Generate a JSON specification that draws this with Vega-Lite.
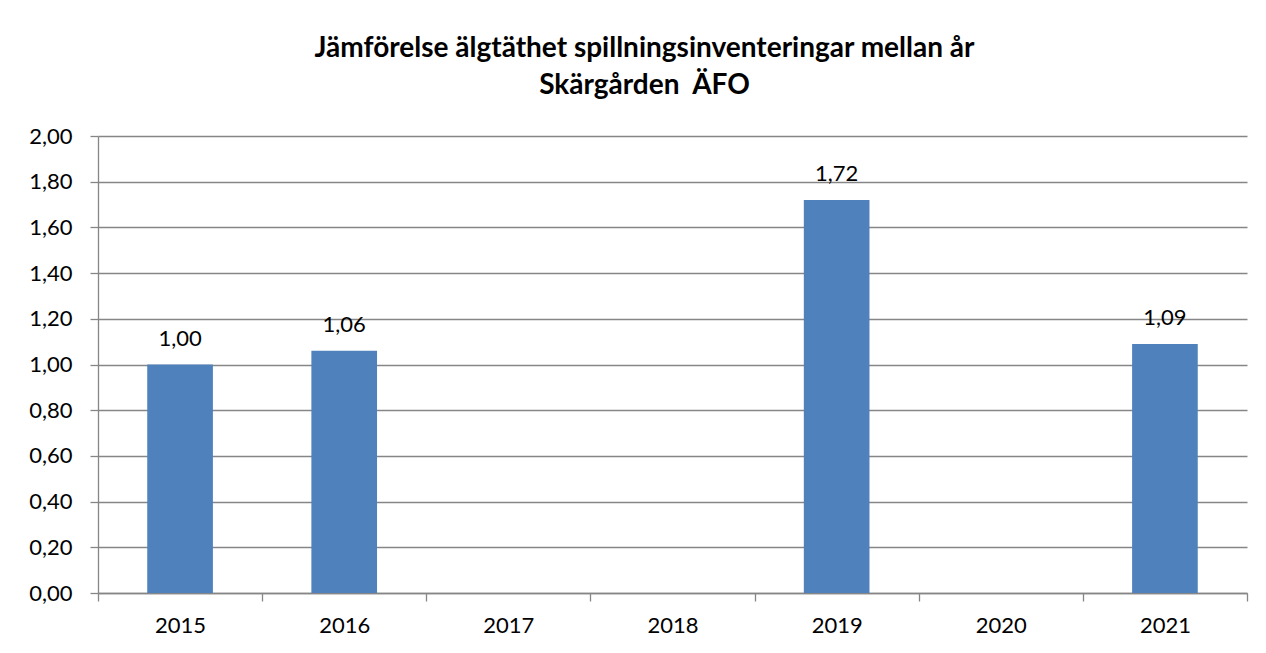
{
  "$schema": "https://vega.github.io/schema/vega-lite/v6.json",
  "autosize": "none",
  "width": 1149,
  "height": 457,
  "padding": {"left": 98, "top": 136, "right": 19, "bottom": 60},
  "background": "white",
  "title": {
    "text": ["Jämförelse älgtäthet spillningsinventeringar mellan år", "Skärgården \u00a0ÄFO"],
    "anchor": "middle",
    "frame": "group",
    "dx": -28,
    "offset": 25,
    "font": "Lato",
    "fontSize": 28,
    "fontWeight": "bold",
    "color": "black",
    "lineHeight": 37
  },
  "data": {
    "values": [
      {"year": "2015", "value": 1.00},
      {"year": "2016", "value": 1.06},
      {"year": "2019", "value": 1.72},
      {"year": "2021", "value": 1.09}
    ]
  },
  "encoding": {
    "x": {
      "field": "year",
      "type": "nominal",
      "sort": null,
      "scale": {"domain": ["2015", "2016", "2017", "2018", "2019", "2020", "2021"], "paddingInner": 0, "paddingOuter": 0},
      "axis": {
        "title": null,
        "labelAngle": 0,
        "tickBand": "extent",
        "tickSize": 8,
        "tickColor": "#868686",
        "tickWidth": 1.3,
        "domainColor": "#868686",
        "domainWidth": 1.3,
        "labelFont": "Lato",
        "labelFontSize": 22,
        "labelColor": "black",
        "labelPadding": 14,
        "grid": false
      }
    },
    "y": {
      "field": "value",
      "type": "quantitative",
      "scale": {"domain": [0, 2], "nice": false},
      "axis": {
        "title": null,
        "values": [0, 0.2, 0.4, 0.6, 0.8, 1.0, 1.2, 1.4, 1.6, 1.8, 2.0],
        "labelExpr": "replace(format(datum.value, '.2f'), '.', ',')",
        "tickSize": 8,
        "tickColor": "#868686",
        "tickWidth": 1.3,
        "domainColor": "#868686",
        "domainWidth": 1.3,
        "grid": true,
        "gridColor": "#868686",
        "gridWidth": 1.3,
        "labelFont": "Lato",
        "labelFontSize": 22,
        "labelColor": "black",
        "labelPadding": 18
      }
    }
  },
  "layer": [
    {
      "mark": {"type": "bar", "color": "#4F81BD", "width": {"band": 0.4}}
    },
    {
      "mark": {"type": "text", "font": "Lato", "fontSize": 22, "color": "black", "baseline": "alphabetic", "dy": -19},
      "encoding": {
        "text": {"field": "value", "type": "quantitative", "format": ".2f"}
      }
    }
  ],
  "config": {
    "view": {"stroke": null},
    "locale": {"number": {"decimal": ",", "thousands": " ", "grouping": [3], "currency": ["", " kr"]}}
  }
}
